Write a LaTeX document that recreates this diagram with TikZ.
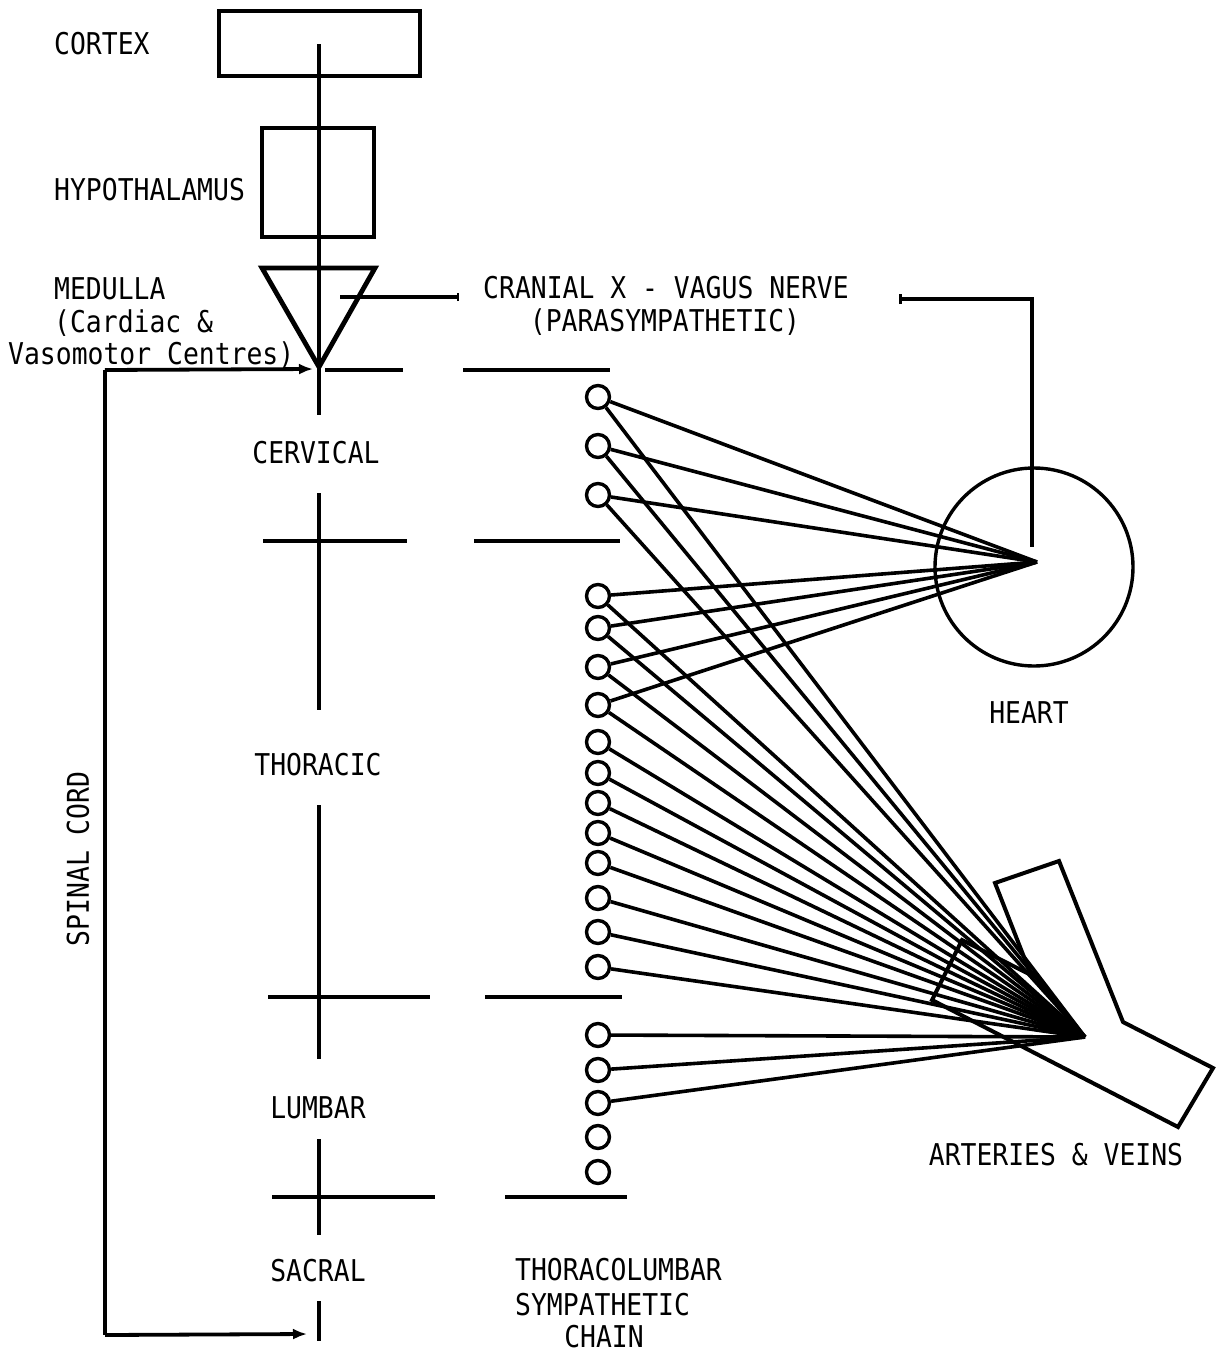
\documentclass[tikz,border=0pt]{standalone}
\usepackage{fontspec}
\setmainfont{DejaVu Sans Mono}[FakeStretch=0.88]
\usetikzlibrary{arrows.meta}
\begin{document}
\begin{tikzpicture}[x=1pt,y=-1pt,
  cord/.style={line width=4.6pt},
  fanline/.style={line width=3.6pt},
  gang/.style={circle,draw,line width=3.4pt,minimum size=23pt,inner sep=0pt},
  lbl/.style={font=\fontsize{30}{36}\selectfont,inner sep=0pt},
  arr/.style={-{Latex[length=14pt,width=11pt]}},
  box/.style={draw,line width=4pt,inner sep=0pt}]
\useasboundingbox (0,0) rectangle (1219,1363);

% brain boxes
\node[box,minimum width=201pt,minimum height=65pt] (cortex) at (319.5,43.5) {};
\node[box,minimum width=112pt,minimum height=109pt] (hypo) at (318,182.5) {};
\coordinate (mtl) at (262,268);
\coordinate (mtr) at (375,268);
\coordinate (apex) at (319,367);
\draw[line width=4.8pt,line join=miter] (mtl) -- (mtr) -- (apex) -- cycle;

% spinal cord segments
\coordinate (s0) at (319,44);
\coordinate (s1) at (319,415);
\coordinate (s2) at (319,493);
\coordinate (s3) at (319,710);
\coordinate (s4) at (319,805);
\coordinate (s5) at (319,1059);
\coordinate (s6) at (319,1139);
\coordinate (s7) at (319,1235);
\coordinate (s8) at (319,1301);
\coordinate (s9) at (319,1341);
\draw[cord] (s0) -- (s1);
\draw[cord] (s2) -- (s3);
\draw[cord] (s4) -- (s5);
\draw[cord] (s6) -- (s7);
\draw[cord] (s8) -- (s9);

% segment dividers
\coordinate (d1a) at (325,370); \coordinate (d1b) at (403,370);
\coordinate (d1c) at (463,370); \coordinate (d1d) at (610,370);
\coordinate (d2a) at (263,541); \coordinate (d2b) at (407,541);
\coordinate (d2c) at (474,541); \coordinate (d2d) at (620,541);
\coordinate (d3a) at (268,997); \coordinate (d3b) at (430,997);
\coordinate (d3c) at (485,997); \coordinate (d3d) at (622,997);
\coordinate (d4a) at (272,1197); \coordinate (d4b) at (435,1197);
\coordinate (d4c) at (505,1197); \coordinate (d4d) at (627,1197);
\foreach \d in {1,2,3,4}{
  \draw[cord] (d\d a) -- (d\d b);
  \draw[cord] (d\d c) -- (d\d d);
}

% spinal cord bracket
\coordinate (b0) at (105,370);
\coordinate (b1) at (105,1335);
\coordinate (bt) at (313,369);
\coordinate (bb) at (307,1334);
\draw[line width=3.8pt] (b0) -- (b1);
\draw[line width=3.8pt,arr] (b0) -- (bt);
\draw[line width=3.8pt,arr] (b1) -- (bb);

% vagus nerve
\coordinate (v0) at (340,297);
\coordinate (v1) at (458,297);
\coordinate (v2) at (900,299);
\coordinate (v3) at (1032,299);
\coordinate (v4) at (1032,547);
\draw[line width=3.6pt] (v0) -- (v1);
\draw[line width=2.6pt] ([yshift=-4pt]v1) -- ([yshift=4pt]v1);
\draw[line width=4.2pt] (v2) -- (v3) -- (v4);
\draw[line width=3pt] ([yshift=-5pt]v2) -- ([yshift=5pt]v2);

% heart
\node[circle,draw,line width=3.4pt,minimum size=198pt,inner sep=0pt] (heart) at (1034,567) {};
\coordinate (H) at (1037,562);

% arteries and veins
\coordinate (a1) at (995,883);
\coordinate (a2) at (1059,861);
\coordinate (a3) at (1123,1022);
\coordinate (a4) at (1213,1068);
\coordinate (a5) at (1178,1127);
\coordinate (a6) at (932,1000);
\coordinate (a7) at (962,940);
\coordinate (a8) at (1031,975);
\draw[line width=4pt,line join=miter] (a1) -- (a2) -- (a3) -- (a4) -- (a5) -- (a6) -- (a7) -- (a8) -- cycle;
\coordinate (A) at (1085,1037);

% ganglia
\foreach \i/\y in {1/397,2/446,3/495,4/596,5/628,6/667,7/705,8/742,9/773,10/803,11/833,12/863,13/898,14/932,15/967,16/1035,17/1070,18/1103,19/1137,20/1172}{
  \node[gang] (g\i) at (598,\y) {};
}
\foreach \i in {1,...,7}{
  \draw[fanline] (g\i) -- (H);
}
\foreach \i in {1,...,18}{
  \draw[fanline] (g\i) -- (A);
}

% labels
\node[lbl,anchor=west] (lcortex) at (54,44) {CORTEX};
\node[lbl,anchor=west] (lhypo) at (54,190) {HYPOTHALAMUS};
\node[lbl,anchor=west] (lmed1) at (54,289) {MEDULLA};
\node[lbl,anchor=west] (lmed2) at (54,323) {(Cardiac \&};
\node[lbl,anchor=west] (lmed3) at (8,355) {Vasomotor Centres)};
\node[lbl] (lcerv) at (316,453) {CERVICAL};
\node[lbl] (lthor) at (318,765) {THORACIC};
\node[lbl] (llumb) at (318,1108) {LUMBAR};
\node[lbl] (lsacr) at (318,1271) {SACRAL};
\node[lbl,anchor=west] (lch1) at (515,1270) {THORACOLUMBAR};
\node[lbl,anchor=west] (lch2) at (515,1305) {SYMPATHETIC};
\node[lbl] (lch3) at (604,1337) {CHAIN};
\node[lbl] (lvag1) at (666,288) {CRANIAL X - VAGUS NERVE};
\node[lbl] (lvag2) at (665,322) {(PARASYMPATHETIC)};
\node[lbl] (lheart) at (1029,713) {HEART};
\node[lbl] (lart) at (1056,1155) {ARTERIES \& VEINS};
\node[lbl,rotate=90] (lspinal) at (78,859) {SPINAL CORD};
\end{tikzpicture}
\end{document}
